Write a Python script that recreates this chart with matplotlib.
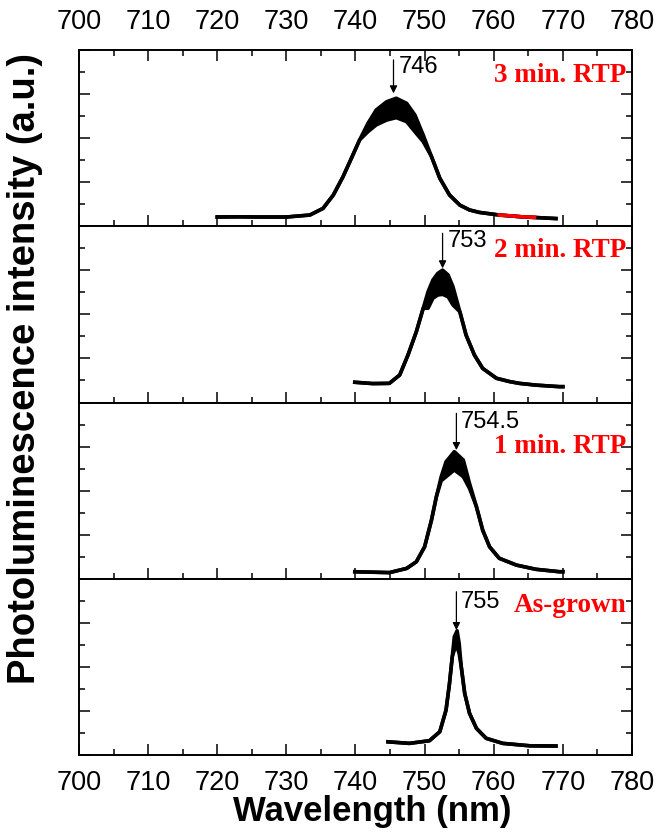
import numpy as np
import matplotlib
matplotlib.use("Agg")
import matplotlib.pyplot as plt
from matplotlib.ticker import MultipleLocator

plt.rcParams['font.family'] = ['Liberation Sans', 'DejaVu Sans']

# --- data (wavelength in nm, intensity in a.u.) ---
# 3 min. RTP (upper / lower edge of the noisy band)
wl_3min = [720, 723, 726, 730, 733.4, 735.3, 736.8, 738.2, 739.4, 740.6, 741.8, 743.0,
           744.5, 745.9, 747.4, 748.6, 749.8, 751.0, 752.2, 753.6, 755.1, 756.5,
           757.9, 760.8, 764.0, 769.0]
up_3min = [0.42, 0.43, 0.42, 0.42, 0.51, 0.81, 1.42, 2.25, 3.08, 3.92, 4.67, 5.28,
           5.65, 5.81, 5.58, 5.05, 4.14, 3.16, 2.18, 1.42, 0.96, 0.74,
           0.63, 0.51, 0.43, 0.35]
lo_3min = [0.42, 0.43, 0.42, 0.42, 0.51, 0.81, 1.42, 2.25, 3.08, 3.92, 4.29, 4.60,
           4.82, 4.93, 4.75, 4.29, 3.84, 3.16, 2.18, 1.42, 0.96, 0.74,
           0.63, 0.51, 0.43, 0.35]
wl_3min_red = [760.8, 762.5, 764.0, 765.9]
y_3min_red = [0.51, 0.47, 0.43, 0.41]

# 2 min. RTP
wl_2min = [739.9, 742.5, 744.9, 746.4, 747.6, 748.8, 749.8, 750.5, 751.2, 751.9, 752.6,
           753.4, 754.1, 755.1, 756.0, 757.2, 758.4, 760.4, 762.3, 763.7, 766.1, 769.5, 770.0]
up_2min = [0.92, 0.86, 0.87, 1.25, 2.16, 3.21, 4.28, 5.03, 5.56, 5.86, 6.01,
           5.79, 5.26, 4.12, 3.06, 2.16, 1.55, 1.10, 0.95, 0.87, 0.79, 0.72, 0.72]
lo_2min = [0.92, 0.86, 0.87, 1.25, 2.16, 3.21, 4.28, 4.28, 4.73, 4.88, 4.91,
           4.80, 4.43, 4.12, 3.06, 2.16, 1.55, 1.10, 0.95, 0.87, 0.79, 0.72, 0.72]

# 1 min. RTP
wl_1min = [739.9, 744.9, 747.4, 748.8, 750.0, 751.0, 751.7, 752.4, 753.1, 754.3,
           755.6, 756.5, 757.5, 758.4, 759.4, 760.8, 763.3, 766.1, 769.5, 770.0]
up_1min = [0.32, 0.28, 0.47, 0.77, 1.45, 2.67, 3.72, 4.63, 5.31, 5.77,
           5.39, 4.33, 3.27, 2.21, 1.45, 0.93, 0.62, 0.43, 0.32, 0.32]
lo_1min = [0.32, 0.28, 0.47, 0.77, 1.45, 2.67, 3.72, 4.45, 4.63, 4.94,
           4.63, 4.10, 3.27, 2.21, 1.45, 0.93, 0.62, 0.43, 0.32, 0.32]

# As-grown
wl_asg = [744.7, 747.8, 750.7, 752.2, 753.1, 753.6, 754.0, 754.3, 754.7, 755.0,
          755.3, 755.8, 756.5, 757.5, 758.9, 761.3, 765.2, 769.0]
up_asg = [0.60, 0.53, 0.65, 1.06, 2.04, 3.25, 4.46, 5.37, 5.64, 5.07,
          4.01, 2.80, 1.89, 1.21, 0.76, 0.53, 0.42, 0.41]
lo_asg = [0.60, 0.53, 0.65, 1.06, 2.04, 3.25, 4.46, 4.77, 4.92, 4.60,
          4.01, 2.80, 1.89, 1.21, 0.76, 0.53, 0.42, 0.41]

spectra = [(wl_3min, up_3min, lo_3min), (wl_2min, up_2min, lo_2min),
           (wl_1min, up_1min, lo_1min), (wl_asg, up_asg, lo_asg)]
labels = ['3 min. RTP', '2 min. RTP', '1 min. RTP', 'As-grown']
label_y = [0.858, 0.865, 0.749, 0.851]
peak_text = ['746', '753', '754.5', '755']
arrow_x = [745.5, 752.6, 754.6, 754.6]
arrow_top = [7.55, 7.68, 7.51, 7.41]
arrow_tip = [6.03, 6.09, 5.84, 5.67]
text_y = [0.905, 0.914, 0.891, 0.870]

fig = plt.figure(figsize=(6.67, 8.32), dpi=100)
gs = fig.add_gridspec(4, 1, left=0.1184, right=0.9475, bottom=0.0925, top=0.9399, hspace=0)
axes = [fig.add_subplot(gs[i]) for i in range(4)]

for i, ax in enumerate(axes):
    wl, up, lo = spectra[i]
    ax.fill_between(wl, lo, up, color='black', lw=0)
    ax.plot(wl, up, color='black', lw=2.6, solid_joinstyle='round')
    ax.plot(wl, lo, color='black', lw=2.6, solid_joinstyle='round')
    if i == 0:
        ax.plot(wl_3min_red, y_3min_red, color='red', lw=2.6)

    ax.set_xlim(700, 780)
    ax.set_ylim(0, 8)
    ax.xaxis.set_major_locator(MultipleLocator(10))
    ax.xaxis.set_minor_locator(MultipleLocator(5))
    ax.yaxis.set_major_locator(MultipleLocator(2))
    ax.yaxis.set_minor_locator(MultipleLocator(1))
    ax.tick_params(which='both', direction='in', left=True, right=True,
                   top=(i == 0), bottom=True, width=1.1, labelleft=False,
                   labelbottom=(i == 3), labeltop=(i == 0), labelsize=19.5, pad=11)
    ax.tick_params(which='major', length=8)
    ax.tick_params(which='minor', length=4.5)
    for sp in ax.spines.values():
        sp.set_linewidth(1.4)

    ax.text(0.99, label_y[i], labels[i], transform=ax.transAxes, ha='right', va='center',
            color='red', fontsize=19.5, fontweight='bold', family='Liberation Serif')
    ax.annotate('', xy=(arrow_x[i], arrow_tip[i]), xytext=(arrow_x[i], arrow_top[i]),
                arrowprops=dict(arrowstyle='-|>', color='black', lw=0.9, mutation_scale=11,
                                shrinkA=0, shrinkB=0))
    ax.text(arrow_x[i] + 0.7, text_y[i], peak_text[i], transform=ax.get_xaxis_transform(),
            ha='left', va='center', fontsize=17)

fig.text(372 / 667, 1 - 812 / 832, 'Wavelength (nm)', ha='center', va='center',
         fontsize=25, fontweight='bold')
fig.text(25 / 667, 1 - 369 / 832, 'Photoluminescence intensity (a.u.)', rotation=90,
         ha='center', va='center', fontsize=27.5, fontweight='bold')

fig.savefig('out.png', dpi=100)
